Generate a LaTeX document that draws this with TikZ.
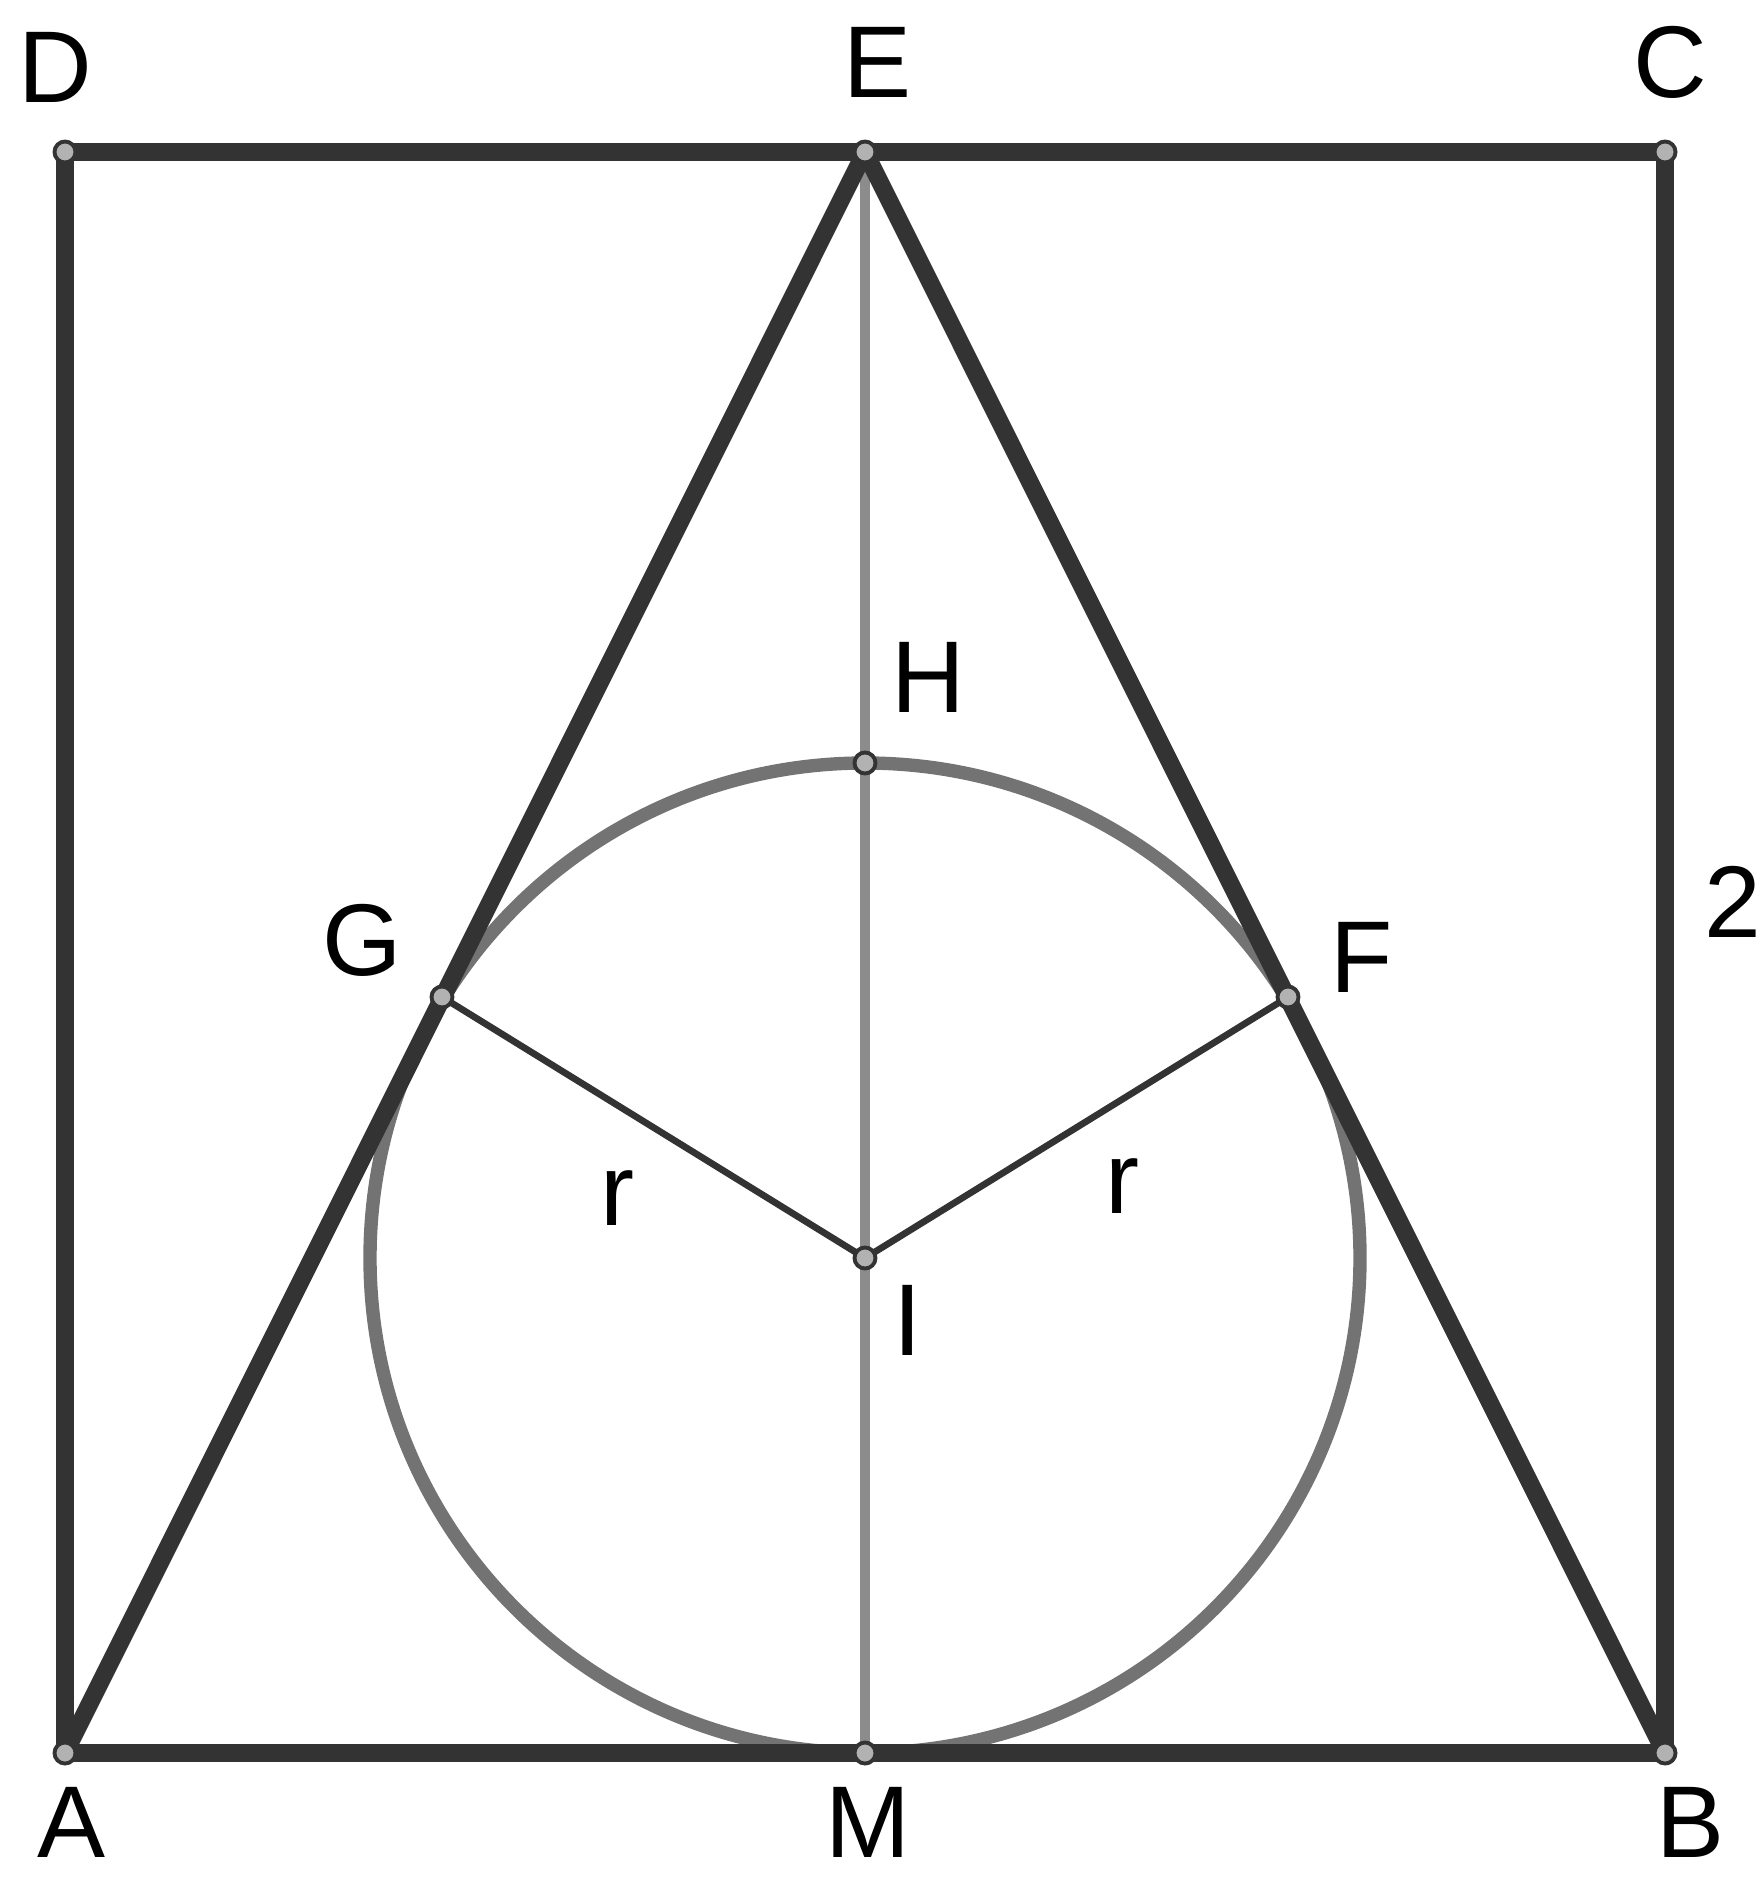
\documentclass[tikz,border=0pt]{standalone}
\usepackage{fontspec}
\setmainfont{Liberation Sans}
\begin{document}
\begin{tikzpicture}[x=0.01cm,y=-0.01cm,
  thickline/.style={draw=black!80,line width=5pt,line join=round},
  medline/.style={draw=black!45,line width=2.6pt},
  thinline/.style={draw=black!80,line width=1.9pt},
  circ/.style={draw=black!55,line width=3.8pt},
  pt/.style={circle,draw=black!80,fill=black!30,line width=1.1pt,inner sep=0pt,minimum size=0.21cm},
  lbl/.style={font=\fontsize{29}{35}\selectfont,inner sep=0pt}]
\useasboundingbox (0,0) rectangle (1763,1879);
\coordinate (A) at (65,1753);
\coordinate (B) at (1665,1753);
\coordinate (C) at (1665,152);
\coordinate (D) at (65,152);
\coordinate (E) at (865,152);
\coordinate (M) at (865,1753);
\coordinate (H) at (865,763);
\coordinate (I) at (865,1258);
\coordinate (G) at (442,997);
\coordinate (F) at (1288,997);
% lines
\draw[medline] (E) -- (M);
\draw[thinline] (G) -- (I) -- (F);
\draw[circ] (I) circle (495);
\draw[thickline] (A) -- (B) -- (C) -- (D) -- cycle;
\draw[thickline] (A) -- (E) -- (B);
% points
\foreach \p in {A,B,C,D,E,M,H,I,G,F}
  \node[pt] (p\p) at (\p) {};
% labels
\node[lbl] (lD) at (55,67) {D};
\node[lbl] (lE) at (877,62) {E};
\node[lbl] (lC) at (1670,62) {C};
\node[lbl] (lA) at (72,1822) {A};
\node[lbl] (lM) at (868,1822) {M};
\node[lbl] (lB) at (1690,1822) {B};
\node[lbl] (lG) at (362,940) {G};
\node[lbl] (lF) at (1362,957) {F};
\node[lbl] (lH) at (928,677) {H};
\node[lbl] (lI) at (908,1320) {I};
\node[lbl] (l2) at (1733,902) {2};
\node[lbl,anchor=base] (lr1) at (617,1225) {r};
\node[lbl,anchor=base] (lr2) at (1122,1213) {r};
\end{tikzpicture}
\end{document}
